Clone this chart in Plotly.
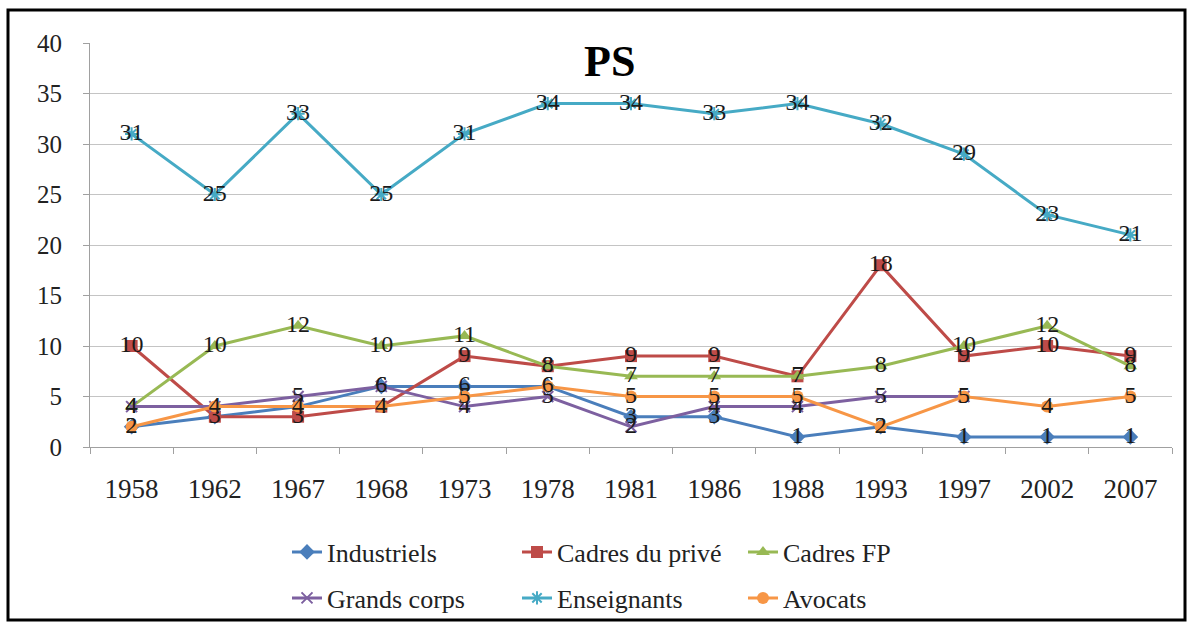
import plotly.graph_objects as go

years = ["1958", "1962", "1967", "1968", "1973", "1978", "1981", "1986", "1988", "1993", "1997", "2002", "2007"]
industriels = [2, 3, 4, 6, 6, 6, 3, 3, 1, 2, 1, 1, 1]
cadres_prive = [10, 3, 3, 4, 9, 8, 9, 9, 7, 18, 9, 10, 9]
cadres_fp = [4, 10, 12, 10, 11, 8, 7, 7, 7, 8, 10, 12, 8]
grands_corps = [4, 4, 5, 6, 4, 5, 2, 4, 4, 5, 5, None, None]
enseignants = [31, 25, 33, 25, 31, 34, 34, 33, 34, 32, 29, 23, 21]
avocats = [2, 4, 4, 4, 5, 6, 5, 5, 5, 2, 5, 4, 5]

W, H = 1192, 623
FONT = "Liberation Serif, Times New Roman, serif"

# (name, values, color, symbol, legend id, legend left px, legend row center px)
series = [
    ("Industriels", industriels, "#4a7ebb", "diamond", "legend", 287, 552),
    ("Cadres du privé", cadres_prive, "#be4b48", "square", "legend2", 517, 552),
    ("Cadres FP", cadres_fp, "#98b954", "triangle-up", "legend3", 743, 552),
    ("Grands corps", grands_corps, "#7d60a0", "x-thin-open", "legend4", 287, 598),
    ("Enseignants", enseignants, "#46aac5", "asterisk-open", "legend5", 517, 598),
    ("Avocats", avocats, "#f79646", "circle", "legend6", 743, 598),
]

fig = go.Figure()
legends = {}
for name, vals, color, sym, leg, lx, ly in series:
    open_sym = sym.endswith("open")
    fig.add_trace(go.Scatter(
        x=years, y=vals, name=name, mode="lines+markers+text",
        text=[("" if v is None else str(v)) for v in vals],
        textposition="middle center",
        textfont=dict(family=FONT, size=24, color="#1a1a1a"),
        line=dict(color=color, width=3),
        marker=dict(symbol=sym, size=12 if not open_sym else 11, color=color,
                    line=dict(color=color, width=2 if open_sym else 0)),
        legend=leg, cliponaxis=False,
    ))
    legends[leg] = dict(
        orientation="v", xref="container", yref="container",
        x=lx / W, y=1 - ly / H, xanchor="left", yanchor="middle",
        font=dict(family=FONT, size=26, color="#222"),
        bgcolor="rgba(0,0,0,0)", borderwidth=0,
    )

fig.update_layout(
    width=W, height=H,
    margin=dict(l=90, r=20, t=43, b=176, autoexpand=False),
    paper_bgcolor="white", plot_bgcolor="white",
    font=dict(family=FONT, size=24, color="#222"),
    showlegend=True,
    xaxis=dict(type="category", range=[-0.5, len(years) - 0.5],
               showgrid=False, showline=True, linecolor="#a0a0a0",
               ticks="outside", tickson="boundaries", ticklen=6, tickcolor="#a0a0a0",
               ticklabelstandoff=18, automargin=False,
               tickfont=dict(family=FONT, size=27, color="#222")),
    yaxis=dict(range=[0, 40], dtick=5, showgrid=True, gridcolor="#c4c4c4", gridwidth=1,
               showline=True, linecolor="#a0a0a0", ticks="outside", ticklen=6,
               tickcolor="#a0a0a0", zeroline=False, automargin=False,
               ticklabelstandoff=16,
               tickfont=dict(family=FONT, size=25, color="#222")),
    annotations=[dict(text="<b>PS</b>", x=(609 - 90) / 1082, y=(447 - 61) / 404,
                      xref="paper", yref="paper", xanchor="center", yanchor="middle",
                      showarrow=False,
                      font=dict(family=FONT, size=44, color="black"))],
    shapes=[dict(type="rect", xref="paper", yref="paper",
                 x0=(8 - 90) / 1082, x1=(1185 - 90) / 1082,
                 y0=(447 - 620) / 404, y1=(447 - 10) / 404,
                 line=dict(color="black", width=3))],
    **legends,
)

fig.write_html("out.html", config={"displayModeBar": False},
               post_script="document.body.style.margin='0';document.body.style.padding='0';")
